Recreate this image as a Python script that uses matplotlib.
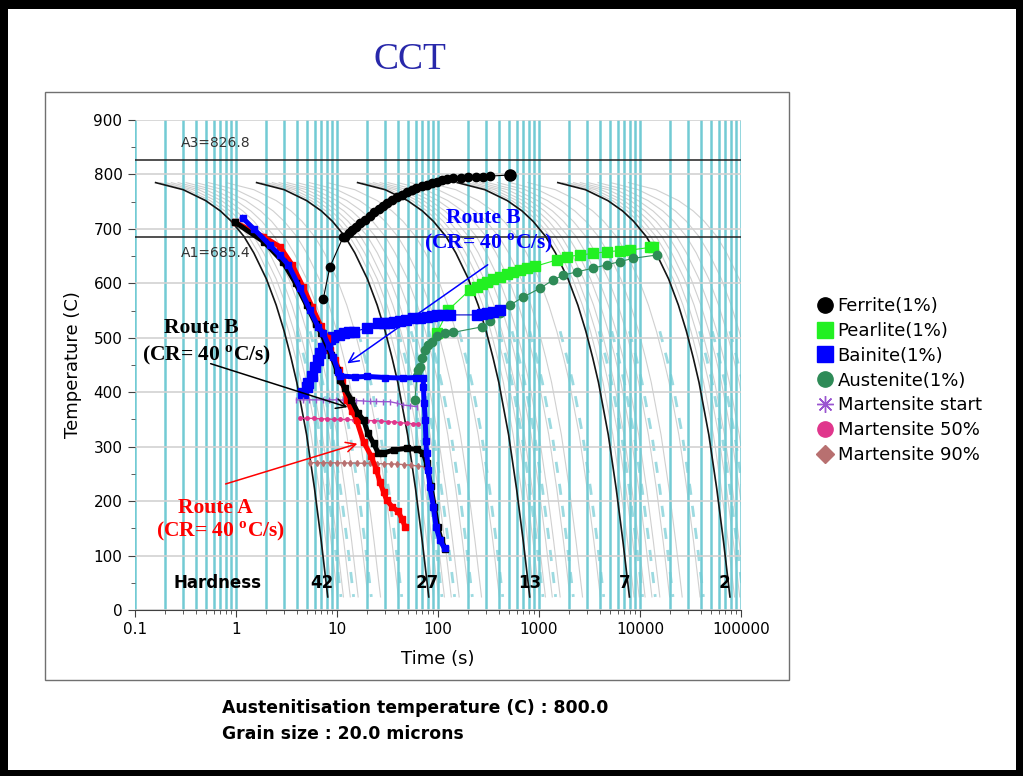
import numpy as np
import matplotlib
matplotlib.use('Agg')
import matplotlib.pyplot as plt
from matplotlib.lines import Line2D
from matplotlib.patches import Rectangle
from matplotlib.ticker import LogLocator, FuncFormatter, NullFormatter, MultipleLocator

plt.rcParams['font.family'] = ['DejaVu Sans']
plt.rcParams['mathtext.fontset'] = 'custom'
plt.rcParams['mathtext.rm'] = 'Liberation Serif'
plt.rcParams['mathtext.bf'] = 'Liberation Serif:bold'

# ---------------- data ----------------
# reference cooling curve (fastest black curve); others are shifted copies in time
cool_t = np.array([0.16, 0.3, 0.5, 0.7, 0.9, 1.2, 1.5, 2.0, 2.5, 3.0, 3.5, 4.0, 5.0, 6.0, 7.0, 8.1])
cool_T = np.array([785, 772, 752, 733, 714, 686, 656, 608, 560, 512, 464, 418, 322, 222, 125, 24])
black_shift = [1, 10, 100, 970, 9600]
grey_shift = [1.11, 1.25, 1.43, 1.67, 2.0, 2.5, 3.33, 5.0]
dash_shift = [1.25, 1.67, 2.5, 5.0]
hardness = ['42', '27', '13', '7', '2']
hardness_t = [7.1, 79, 813, 7060, 69000]

A3 = 826.8
A1 = 685.4

ferrite_t = [7.3, 8.5, 11.5, 12.0, 13, 14, 15.5, 17, 19, 21, 23.5, 26, 28.5, 31, 35, 39, 44, 49, 55,
             61, 69, 77, 87, 97, 110, 122, 141, 170, 200, 240, 280, 327, 516]
ferrite_T = [571, 630, 685, 686, 692, 698, 704, 710, 717, 724, 731, 737, 742, 747, 753, 758, 763, 768, 772,
             775, 778, 781, 784, 787, 789, 792, 793, 794, 795, 795, 796, 797, 799]

pearlite_t = [97, 126.5, 207, 241.6, 270, 303, 350, 411, 480, 553, 650, 755, 912, 1496, 1880, 2547,
              3450, 4680, 6340, 7960, 12570, 13470]
pearlite_T = [508, 551, 588, 594, 598, 603, 608, 612, 617, 621, 625, 628, 631, 643, 649, 652,
              655, 658, 660, 661, 666, 667]

bainite_t = [4.6, 5.0, 5.2, 5.6, 6.06, 6.5, 6.8, 7.3, 7.9, 8.5, 9.2, 10.5, 11.6, 13, 14.6, 20, 25.7, 29,
             33, 37, 42, 48, 57, 66, 77, 87, 97, 113, 131, 242, 270, 303, 350, 411]
bainite_T = [398, 410, 417, 429, 447, 460, 472, 481, 490, 497, 502, 506, 508, 510, 511, 518, 527, 527,
             528, 529, 530, 532, 536, 537, 539, 540, 542, 542, 542, 542, 543, 545, 548, 551]

austenite_t = [59, 62, 64, 66.5, 70, 74.5, 80, 86.6, 97, 116, 142, 271, 327, 411, 516, 700, 1024,
               1377, 1730, 2362, 3450, 4680, 6340, 8590, 14620]
austenite_T = [386, 430, 440, 447, 462, 478, 486, 493, 503, 508, 510, 520, 530, 545, 560, 575, 591,
               606, 615, 621, 628, 634, 640, 646, 652]

ms_t = [3.97, 4.6, 5.3, 6.2, 7.2, 8.4, 9.8, 11.4, 13.3, 15.5, 18.0, 21.0, 24.5, 28.5, 33.4, 39, 45, 53, 61.5]
ms_T = [386, 386, 386, 386, 386, 386, 386, 385.5, 385, 384.5, 384, 383, 383, 382.6, 382.6, 380, 376.6, 375, 373.5]
m50_t = [4.3, 5.0, 5.9, 6.9, 8.0, 9.3, 10.7, 12.5, 14.6, 17, 20, 23, 27, 32, 37, 42, 49, 56, 63.8]
m50_T = [352, 352, 352, 351, 351, 350, 350, 350, 349, 349, 348, 347.7, 347, 346, 345, 344, 343, 342, 341.7]
m90_t = [5.4, 6.3, 7.3, 8.5, 10, 11.6, 13.5, 15.7, 18.3, 21.4, 25, 29, 34, 39, 46, 54, 63, 74]
m90_T = [270.6, 270.6, 270.5, 270.4, 270.3, 270.2, 270, 269.8, 269.5, 269.3, 269, 268.7, 268.4, 268, 267, 266, 264.5, 263]

routeA_t = [0.98, 1.86, 2.73, 3.6, 4.6, 5.7, 6.9, 8.0, 8.6, 9.6, 10.5, 11.3, 12.5, 14.0, 15.6, 18.3, 21.9,
            24.6, 26.5, 28.9, 31.0, 35.0, 40.3, 43.8, 47.3]
routeA_T = [712, 686, 667, 634, 594, 556, 522, 500, 478, 460, 440, 420, 386, 366, 349, 309, 282,
            257, 236, 217, 202, 190, 181, 168, 153]

routeBk_t = [0.98, 1.9, 2.9, 3.9, 5.0, 6.2, 7.0, 8.8, 10.0, 10.7, 12, 13.9, 16.2, 18.3, 20.2, 23, 25.7,
             28.8, 36.3, 49, 61.5, 71.5, 77, 85, 92, 99, 108, 118]
routeBk_T = [712, 676, 640, 600, 560, 525, 508, 468, 440, 422, 407, 386, 361, 349, 325, 306, 288,
             288, 294, 297, 295, 288, 270, 227, 190, 153, 128, 112]

routeBb_t = [1.165, 1.5, 2.17, 2.7, 3.3, 4.3, 5.4, 6.53, 7.31, 8.3, 9.2, 10.3, 10.7, 15, 20, 30, 45, 60,
             71.5, 71.8, 73, 74.7, 76, 77, 80.3, 83, 90, 95.6, 104, 116]
routeBb_T = [720, 700, 670, 652, 634, 591, 551, 520, 508, 485, 465, 438, 430, 428, 429, 427, 426, 427,
             426, 410, 380, 349, 310, 288, 257, 226, 190, 153, 129, 113]

legend_labels = ['Ferrite(1%)', 'Pearlite(1%)', 'Bainite(1%)', 'Austenite(1%)',
                 'Martensite start', 'Martensite 50%', 'Martensite 90%']

# ---------------- colours ----------------
c_cyan = '#72cbd4'
c_grey = '#d0d0d0'
c_pearl = '#22f022'
c_bain = '#0000ff'
c_aus = '#2e8b57'
c_ms = '#9a55d0'
c_m50 = '#e0368c'
c_m90 = '#b87070'

fig = plt.figure(figsize=(10.23, 7.76), dpi=100)
fig.patch.set_facecolor('white')

W, H = 1023.0, 776.0
# outer black frame
for (x0, y0, w, h) in [(0, 0, 8, H), (0, H - 9, W, 9), (W - 7, 0, 7, H), (0, 0, W, 6)]:
    fig.patches.append(Rectangle((x0 / W, y0 / H), w / W, h / H, transform=fig.transFigure,
                                 facecolor='black', edgecolor='none', zorder=0))
# grey panel
fig.patches.append(Rectangle((45 / W, 1 - 680 / H), 744 / W, 588 / H, transform=fig.transFigure,
                             facecolor='none', edgecolor='#707070', lw=1.0, zorder=1))

ax = fig.add_axes([135 / W, 1 - 610 / H, 606 / W, 490 / H])
ax.set_xscale('log')
ax.set_xlim(0.1, 1e5)
ax.set_ylim(0, 900)
ax.set_axisbelow(True)

ax.xaxis.set_major_locator(LogLocator(base=10, numticks=12))
ax.xaxis.set_minor_locator(LogLocator(base=10, subs=np.arange(2, 10), numticks=12))
ax.xaxis.set_major_formatter(FuncFormatter(lambda v, p: '%g' % v))
ax.xaxis.set_minor_formatter(NullFormatter())
ax.yaxis.set_major_locator(MultipleLocator(100))
ax.yaxis.set_minor_locator(MultipleLocator(50))

ax.grid(which='both', axis='x', color=c_cyan, lw=1.8, zorder=0.5)
ax.grid(which='major', axis='y', color='#d2d2d2', lw=1.2, zorder=0.5)

for s in ['top', 'right', 'left']:
    ax.spines[s].set_visible(False)
ax.spines['bottom'].set_color('#404040')
ax.tick_params(axis='both', which='major', labelsize=11, length=5, color='#404040', pad=4)
ax.tick_params(axis='both', which='minor', length=3, color='#404040')

ax.set_xlabel('Time (s)', fontsize=13, labelpad=9)
ax.set_ylabel('Temperature (C)', fontsize=13, labelpad=8)

# cooling curves
low = cool_T < 560
for b in black_shift:
    for g in grey_shift:
        ax.plot(cool_t * b * g, cool_T, color=c_grey, lw=0.8, zorder=0.4)
    for g in dash_shift:
        ax.plot(cool_t[low] * b * g * 1.08, cool_T[low], color=c_cyan, lw=2.0, alpha=0.7,
                ls=(0, (4, 4)), zorder=0.42)
for b in black_shift:
    ax.plot(cool_t * b, cool_T, color='#151515', lw=1.2, zorder=1.2)

ax.axhline(A3, color='#202020', lw=1.1, zorder=1.3)
ax.axhline(A1, color='#202020', lw=1.1, zorder=1.3)
ax.text(0.285, A3 + 31, 'A3=%.1f' % A3, fontsize=10, color='#333333', va='center', ha='left')
ax.text(0.285, A1 - 30, 'A1=%.1f' % A1, fontsize=10, color='#333333', va='center', ha='left')

# hardness labels
ax.text(0.65, 50, 'Hardness', fontsize=12, fontweight='bold', ha='center', va='center', zorder=6)
for h, t in zip(hardness, hardness_t):
    ax.text(t, 50, h, fontsize=12, fontweight='bold', ha='center', va='center', zorder=6)

# transformation curves
ax.plot(ferrite_t, ferrite_T, color='black', lw=0.8, marker='o', ms=6, zorder=3)
ax.plot(ferrite_t[-1:], ferrite_T[-1:], color='black', marker='o', ms=8, ls='none', zorder=3)
ax.plot(pearlite_t, pearlite_T, color=c_pearl, lw=0.8, marker='s', ms=6.5, zorder=3)
ax.plot(austenite_t, austenite_T, color=c_aus, lw=0.8, marker='o', ms=6, zorder=3.1)
ax.plot(bainite_t, bainite_T, color='#0000cc', lw=0.8, marker='s', ms=6.5, mfc=c_bain, mec=c_bain, zorder=3.2)
ax.plot(ms_t, ms_T, color=c_ms, lw=1.0, marker='|', ms=5, zorder=3.3)
ax.plot(m50_t, m50_T, color=c_m50, lw=1.0, marker='o', ms=2.5, zorder=3.3)
ax.plot(m90_t, m90_T, color=c_m90, lw=1.0, marker='d', ms=3, zorder=3.3)

# routes
ax.plot(routeA_t, routeA_T, color='red', lw=3.6, marker='s', ms=5, zorder=4)
ax.plot(routeBk_t, routeBk_T, color='black', lw=3.6, marker='s', ms=5, zorder=4.1)
ax.plot(routeBb_t, routeBb_T, color='blue', lw=3.6, marker='s', ms=5, zorder=4.2)

# annotations
cr = r'(CR= 40 $^{\mathbf{o}}$C/s)'
serif = dict(family='Liberation Serif', fontweight='bold', fontsize=15.5, ha='center', va='center', zorder=7)
ax.text(279, 720, 'Route B', color='blue', **serif)
ax.text(320, 674, cr, color='blue', **serif)
ax.text(0.45, 518, 'Route B', color='black', **serif)
ax.text(0.516, 468, cr, color='black', **serif)
ax.text(0.62, 187, 'Route A', color='red', **serif)
ax.text(0.71, 145, cr, color='red', **serif)

ap = '->,head_length=0.7,head_width=0.35'
ax.annotate('', xy=(12.0, 450), xytext=(327, 637),
            arrowprops=dict(arrowstyle=ap, color='blue', lw=1.1), zorder=7)
ax.annotate('', xy=(13.5, 371), xytext=(0.528, 454),
            arrowprops=dict(arrowstyle=ap, color='black', lw=1.1), zorder=7)
ax.annotate('', xy=(16.9, 307), xytext=(0.743, 230),
            arrowprops=dict(arrowstyle=ap, color='red', lw=1.1), zorder=7)

# title & footer
fig.text(410 / W, 1 - 60 / H, 'CCT', family='Liberation Serif', fontsize=27, color='#2828aa',
         ha='center', va='center')
fig.text(222 / W, 1 - 708 / H, 'Austenitisation temperature (C) : 800.0', fontsize=12.4,
         fontweight='bold', ha='left', va='center')
fig.text(222 / W, 1 - 734 / H, 'Grain size : 20.0 microns', fontsize=12.4,
         fontweight='bold', ha='left', va='center')

# legend
handles = [
    Line2D([], [], ls='none', marker='o', color='black', ms=11),
    Line2D([], [], ls='none', marker='s', color=c_pearl, ms=11),
    Line2D([], [], ls='none', marker='s', color=c_bain, ms=11),
    Line2D([], [], ls='none', marker='o', color=c_aus, ms=11),
    Line2D([], [], ls='none', marker=(8, 2, 0), color=c_ms, ms=12, mew=1.0),
    Line2D([], [], ls='none', marker='o', color=c_m50, ms=11),
    Line2D([], [], ls='none', marker='D', color=c_m90, ms=9),
]
fig.legend(handles, legend_labels, loc='upper left', bbox_to_anchor=(816 / W, 1 - 297 / H),
           frameon=False, fontsize=13, handlelength=1.0, handletextpad=0.2,
           labelspacing=0.38, borderpad=0, borderaxespad=0)

fig.savefig('out.png', dpi=100)
